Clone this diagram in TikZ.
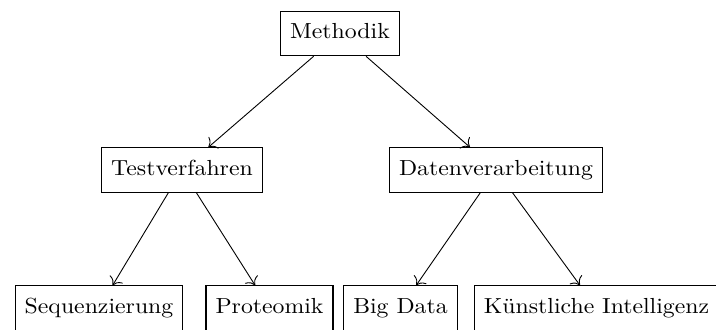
\documentclass[tikz,border=0pt]{standalone}
\usepackage{fontspec}
\setmainfont{Latin Modern Roman}[FakeStretch=1.09]
\usetikzlibrary{arrows.meta}
\begin{document}
\begin{tikzpicture}[x=0.5pt,y=-0.5pt,
  box/.style={draw, line width=0.6pt, inner xsep=4.75pt, inner ysep=0pt,
    text height=13.6pt, text depth=8.6pt,
    font=\fontsize{10.9}{13}\selectfont},
  link/.style={-{To[scale=1.4]}, line width=0.45pt}]
\clip (0,0) rectangle (716,329);
\node[box] (m) at (340,33.5) {Methodik};
\node[box] (t) at (182,170) {Testverfahren};
\node[box] (d) at (496,170) {Datenverarbeitung};
\node[box] (s) at (99,308) {Sequenzierung};
\node[box] (p) at (269.5,308) {Proteomik};
\node[box] (b) at (400.5,308) {Big Data};
\node[box] (k) at (596.5,308) {Künstliche Intelligenz};
\draw[link] (m) -- (t);
\draw[link] (m) -- (d);
\draw[link] (t) -- (s);
\draw[link] (t) -- (p);
\draw[link] (d) -- (b);
\draw[link] (d) -- (k);
\end{tikzpicture}
\end{document}
